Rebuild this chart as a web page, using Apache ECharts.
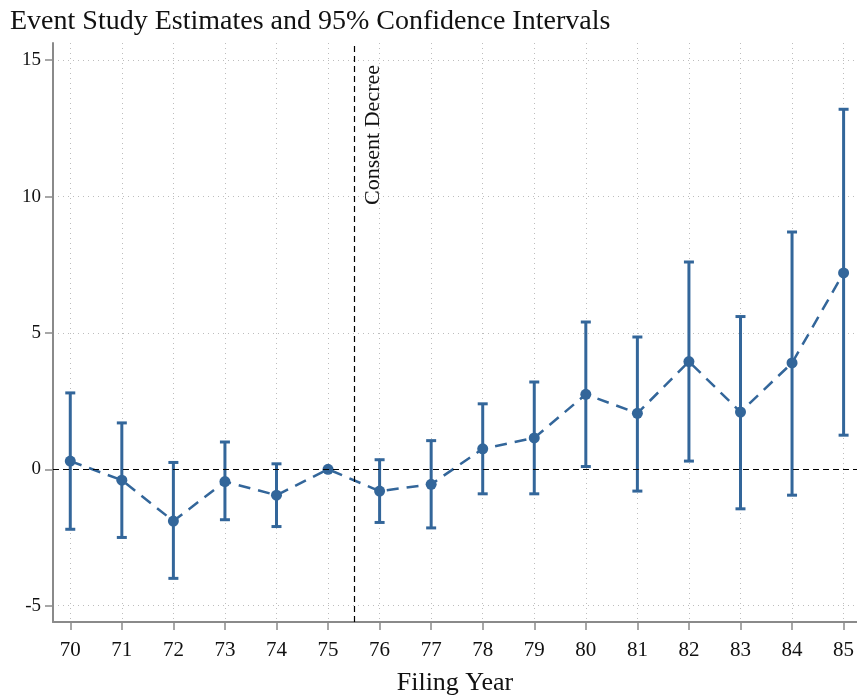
<!DOCTYPE html>
<html>
<head>
<meta charset="utf-8">
<script src="https://cdn.jsdelivr.net/npm/echarts@6/dist/echarts.min.js"></script>
<style>
  html, body { margin: 0; padding: 0; background: #fff; }
  #chart { width: 857px; height: 695px; }
</style>
</head>
<body>
<div id="chart"></div>
<script>
  // filing years and event-study estimates
  var years = [70, 71, 72, 73, 74, 75, 76, 77, 78, 79, 80, 81, 82, 83, 84, 85]
  var estimate = [0.3, -0.4, -1.9, -0.45, -0.95, 0, -0.8, -0.55, 0.75, 1.15, 2.75, 2.05, 3.95, 2.1, 3.9, 7.2]
  var ciHigh = [2.8, 1.7, 0.25, 1.0, 0.2, null, 0.35, 1.05, 2.4, 3.2, 5.4, 4.85, 7.6, 5.6, 8.7, 13.2]
  var ciLow = [-2.2, -2.5, -4.0, -1.85, -2.1, null, -1.95, -2.15, -0.9, -0.9, 0.1, -0.8, 0.3, -1.45, -0.95, 1.25]
  var yTicks = [-5, 0, 5, 10, 15]
  var decreeYear = 75.5

  var blue = '#33669a'
  var font = 'Liberation Serif'

  var pts = years.map(function (y, i) { return [y, estimate[i]] })
  var bars = []
  years.forEach(function (y, i) {
    if (ciHigh[i] != null) bars.push([y, ciLow[i], ciHigh[i]])
  })

  var chart = echarts.init(document.getElementById('chart'))
  chart.setOption({
    animation: false,
    backgroundColor: '#fff',
    title: {
      text: 'Event Study Estimates and 95% Confidence Intervals',
      left: 5,
      top: 3,
      textStyle: { fontFamily: font, fontWeight: 'normal', fontSize: 28, color: '#111' }
    },
    grid: { left: 53, right: 0, top: 43, bottom: 73, outerBoundsMode: 'none', containLabel: false },
    xAxis: {
      type: 'value',
      min: 69.665,
      max: 85.26,
      name: 'Filing Year',
      nameLocation: 'middle',
      nameGap: 48,
      nameTextStyle: { fontFamily: font, fontSize: 26, color: '#111' },
      axisLine: { onZero: false, lineStyle: { color: '#8a8a8a', width: 2 } },
      axisTick: { length: 8, lineStyle: { color: '#8a8a8a', width: 1.5 }, customValues: years },
      axisLabel: { fontFamily: font, fontSize: 21, color: '#111', margin: 18, customValues: years },
      splitLine: { show: true, lineStyle: { color: '#bdbdbd', type: [1, 4], width: 1 } }
    },
    yAxis: {
      type: 'value',
      min: -5.6,
      max: 15.63,
      axisLine: { show: true, onZero: false, lineStyle: { color: '#8a8a8a', width: 2 } },
      axisTick: { show: true, length: 8, lineStyle: { color: '#8a8a8a', width: 1.5 }, customValues: yTicks },
      axisLabel: { fontFamily: font, fontSize: 19, color: '#111', margin: 12, customValues: yTicks },
      splitLine: { show: true, lineStyle: { color: '#bdbdbd', type: [1, 4], width: 1 } }
    },
    series: [
      {
        type: 'custom',
        name: 'ci',
        data: bars,
        z: 3,
        renderItem: function (params, api) {
          var x = api.value(0)
          var lo = api.coord([x, api.value(1)])
          var hi = api.coord([x, api.value(2)])
          var w = 5
          var st = { stroke: blue, lineWidth: 3 }
          return {
            type: 'group',
            children: [
              { type: 'line', shape: { x1: lo[0], y1: lo[1], x2: hi[0], y2: hi[1] }, style: st },
              { type: 'line', shape: { x1: lo[0] - w, y1: lo[1], x2: lo[0] + w, y2: lo[1] }, style: st },
              { type: 'line', shape: { x1: hi[0] - w, y1: hi[1], x2: hi[0] + w, y2: hi[1] }, style: st }
            ]
          }
        }
      },
      {
        type: 'line',
        name: 'estimate',
        data: pts,
        z: 4,
        symbol: 'circle',
        symbolSize: 11,
        itemStyle: { color: blue },
        lineStyle: { color: blue, width: 2.5, type: [12, 8] },
        markLine: {
          silent: true,
          symbol: 'none',
          animation: false,
          data: [
            {
              yAxis: 0,
              lineStyle: { color: '#000', type: [6, 4], width: 1.2 },
              label: { show: false }
            },
            {
              xAxis: decreeYear,
              lineStyle: { color: '#000', type: [6, 4], width: 1.2 },
              label: {
                show: true,
                formatter: 'Consent Decree',
                position: 'insideEndBottom',
                distance: [22, 8],
                fontFamily: font,
                fontSize: 22,
                color: '#111'
              }
            }
          ]
        }
      }
    ]
  })
</script>
</body>
</html>
